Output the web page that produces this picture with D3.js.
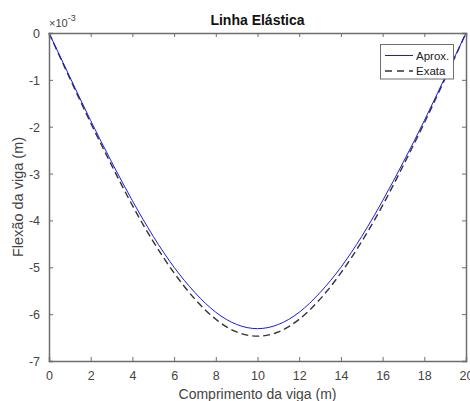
<!DOCTYPE html>
<html>
<head>
<meta charset="utf-8">
<script src="https://cdn.jsdelivr.net/npm/d3@7"></script>
<style>
  html, body { margin: 0; padding: 0; background: #fff; }
  svg { display: block; font-family: "Liberation Sans", Arial, sans-serif; }
</style>
</head>
<body>
<svg id="chart" width="470" height="401"></svg>
<script>
// Data (deflection in units of 1e-3 m)
const xPos   = [0, 1, 2, 3, 4, 5, 6, 7, 8, 9, 10, 11, 12, 13, 14, 15, 16, 17, 18, 19, 20];
const aprox  = [0, -0.94, -1.87, -2.75, -3.58, -4.34, -5.00, -5.54, -5.96, -6.22, -6.31, -6.22, -5.96, -5.54, -5.00, -4.34, -3.58, -2.75, -1.87, -0.94, 0];
const exata  = [0, -0.97, -1.92, -2.82, -3.68, -4.45, -5.12, -5.68, -6.11, -6.38, -6.47, -6.38, -6.11, -5.68, -5.12, -4.45, -3.68, -2.82, -1.92, -0.97, 0];
const xTicks = [0, 2, 4, 6, 8, 10, 12, 14, 16, 18, 20];
const yTicks = [0, -1, -2, -3, -4, -5, -6, -7];
const seriesNames = ["Aprox.", "Exata"];

const svg = d3.select("#chart");
const L = 49, R = 466, T = 33, B = 361;
const x = d3.scaleLinear().domain([0, 20]).range([L, R]);
const y = d3.scaleLinear().domain([-7, 0]).range([B, T]);
const axisColor = "#6e6e6e";
const textColor = "#444";

// Lines
const line = d3.line().x((d, i) => x(xPos[i])).y(d => y(d)).curve(d3.curveNatural);
svg.append("path").datum(exata).attr("d", line)
  .attr("fill", "none").attr("stroke", "#333").attr("stroke-width", 1.4)
  .attr("stroke-dasharray", "7,4");
svg.append("path").datum(aprox).attr("d", line)
  .attr("fill", "none").attr("stroke", "#1a1ae6").attr("stroke-width", 1);

// Axes
const tickLen = 4;
const xb = svg.append("g").attr("transform", `translate(0,${B})`)
  .call(d3.axisBottom(x).tickValues(xTicks).tickSize(-tickLen).tickPadding(10).tickFormat(d3.format("d")));
const xt = svg.append("g").attr("transform", `translate(0,${T})`)
  .call(d3.axisTop(x).tickValues(xTicks).tickSize(-tickLen).tickFormat(""));
const yl = svg.append("g").attr("transform", `translate(${L},0)`)
  .call(d3.axisLeft(y).tickValues(yTicks).tickSize(-tickLen).tickPadding(9).tickFormat(d => d === 0 ? "0" : String(d).replace("−", "-")));
const yr = svg.append("g").attr("transform", `translate(${R},0)`)
  .call(d3.axisRight(y).tickValues(yTicks).tickSize(-tickLen).tickFormat(""));

[xb, xt, yl, yr].forEach(g => {
  g.select(".domain").attr("stroke", axisColor).attr("stroke-width", 1.5);
  g.selectAll(".tick line").attr("stroke", axisColor).attr("stroke-width", 1);
  g.selectAll(".tick text").attr("fill", textColor).attr("font-size", 12.5)
    .attr("font-family", "Liberation Sans, Arial, sans-serif");
});
yl.selectAll(".tick text").attr("dy", "0.36em");

// Exponent label
const ex = svg.append("text").attr("x", 49).attr("y", 27).attr("fill", textColor)
  .attr("font-size", 11);
ex.append("tspan").text("\u00d710");
ex.append("tspan").attr("dy", -6).attr("font-size", 9).text("-3");

// Title
svg.append("text").attr("x", (L + R) / 2).attr("y", 25).attr("text-anchor", "middle")
  .attr("font-size", 14).attr("font-weight", "bold").attr("fill", "#111").text("Linha Elástica");

// Axis labels
svg.append("text").attr("x", (L + R) / 2).attr("y", 399).attr("text-anchor", "middle")
  .attr("font-size", 14).attr("fill", textColor).text("Comprimento da viga (m)");
svg.append("text").attr("transform", `translate(23,${(T + B) / 2}) rotate(-90)`)
  .attr("text-anchor", "middle").attr("font-size", 14.5).attr("fill", textColor)
  .text("Flexão da viga (m)");

// Legend
const lg = svg.append("g");
lg.append("rect").attr("x", 380.5).attr("y", 44.5).attr("width", 73).attr("height", 34.5)
  .attr("fill", "#fff").attr("stroke", axisColor).attr("stroke-width", 1);
const legStyles = [
  { stroke: "#1a1ae6", width: 1, dash: null },
  { stroke: "#333", width: 1.4, dash: "7,5" }
];
seriesNames.forEach((name, i) => {
  const yy = 55.5 + i * 15.5;
  lg.append("line").attr("x1", 385).attr("x2", 413).attr("y1", yy).attr("y2", yy)
    .attr("stroke", legStyles[i].stroke).attr("stroke-width", legStyles[i].width)
    .attr("stroke-dasharray", legStyles[i].dash);
  lg.append("text").attr("x", 416).attr("y", yy).attr("dy", "0.35em")
    .attr("font-size", 11.5).attr("fill", "#222").text(name);
});
</script>
</body>
</html>
